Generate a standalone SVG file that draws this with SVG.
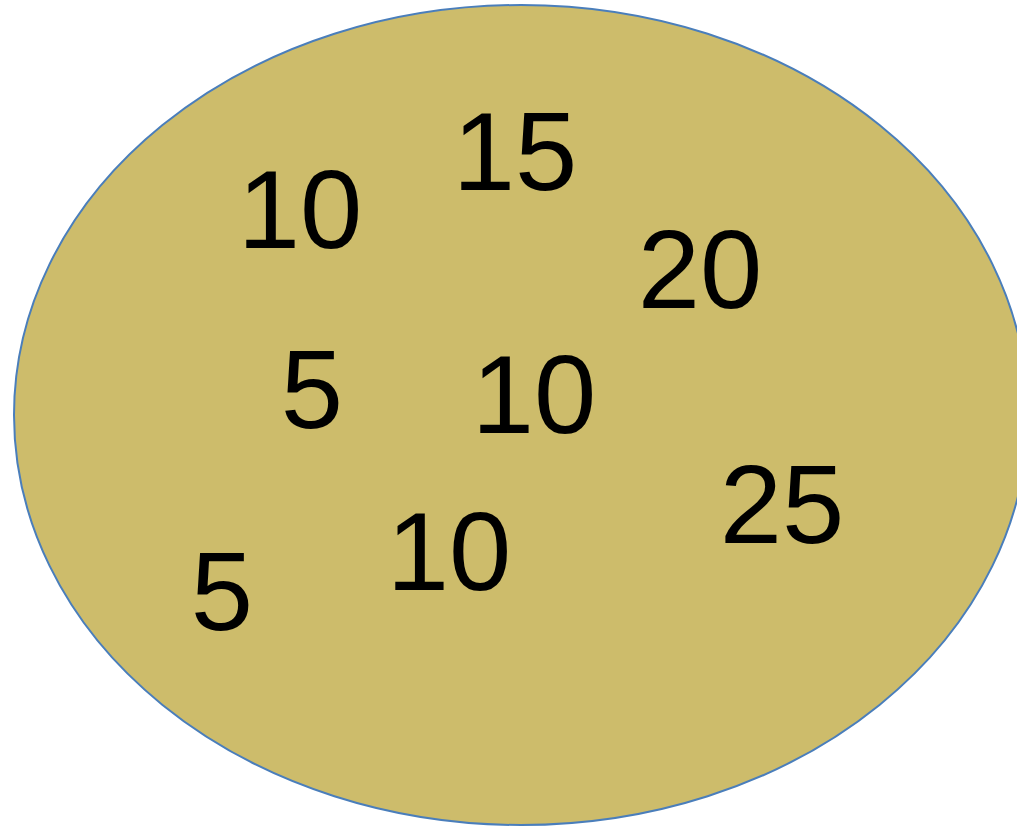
<svg xmlns="http://www.w3.org/2000/svg" width="1017" height="828" viewBox="0 0 1017 828">
<style>
.n{font-family:"Liberation Sans","DejaVu Sans",sans-serif;font-size:112px;fill:#000;text-anchor:middle}
</style>
<rect width="1017" height="828" fill="#fff"/>
<g id="ellipse">
<ellipse cx="521" cy="415" rx="507" ry="410" fill="#CDBC6B" stroke="#4A7EBB" stroke-width="2"/>
</g>
<g id="labels">
<text class="n" x="300" y="248">10</text>
<text class="n" x="515" y="190">15</text>
<text class="n" x="700" y="308">20</text>
<text class="n" x="312" y="428">5</text>
<text class="n" x="534" y="433">10</text>
<text class="n" x="782" y="543">25</text>
<text class="n" x="449" y="590">10</text>
<text class="n" x="222" y="630">5</text>
</g>
</svg>
